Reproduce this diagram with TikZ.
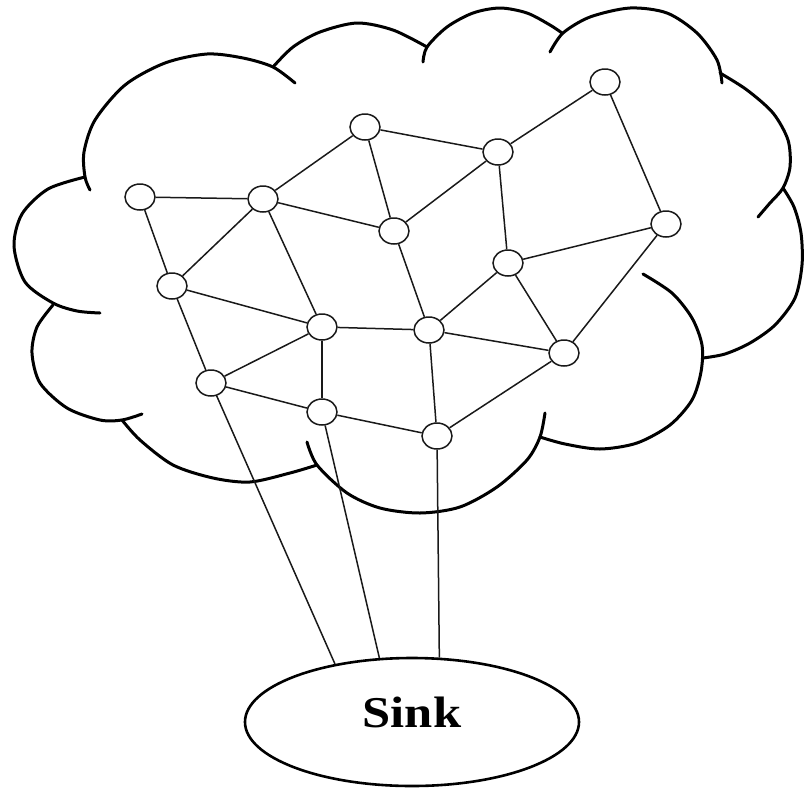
\documentclass[tikz,border=0pt]{standalone}
\usepackage{fontspec}
\setmainfont{Liberation Serif}
\usetikzlibrary{shapes.geometric}
\begin{document}
\begin{tikzpicture}[x=1pt,y=-1pt,
  sensor/.style={draw=black!90, ellipse, line width=1.5pt, minimum width=30pt, minimum height=26pt, inner sep=0pt, fill=white},
  link/.style={line width=1.5pt, draw=black!90},
  cloudline/.style={line width=3pt, line cap=round},
  sinkshape/.style={draw, ellipse, line width=2.6pt, minimum width=334pt, minimum height=128pt, inner sep=0pt},
]
\useasboundingbox (0,0) rectangle (804,788);
% cloud lobes
\draw[cloudline] plot[smooth] coordinates {(90,190) (85,177) (84,152) (95,120) (125,85) (165,63) (207,54) (243,58) (273,67) (295,83)};
\draw[cloudline] plot[smooth] coordinates {(273,67) (293,47) (320,32) (357,23) (393,30) (427,47)};
\draw[cloudline] plot[smooth] coordinates {(423,62) (427,47) (447,27) (473,13) (500,8) (527,13) (550,25) (562,33)};
\draw[cloudline] plot[smooth] coordinates {(550,52) (563,33) (590,17) (630,8) (667,13) (697,33) (717,60) (722,83)};
\draw[cloudline] plot[smooth] coordinates {(720,73) (747,90) (773,113) (788,140) (790,167) (783,188) (770,203) (758,217)};
\draw[cloudline] plot[smooth] coordinates {(783,188) (794,207) (801,233) (802,265) (795,298) (775,325) (750,343) (725,354) (703,358)};
\draw[cloudline] plot[smooth] coordinates {(643,274) (672,293) (692,318) (702,345) (701,372) (692,400) (670,425) (637,443) (600,449) (565,444) (540,437)};
\draw[cloudline] plot[smooth] coordinates {(545,413) (540,437) (527,460) (497,487) (460,507) (420,513) (380,508) (347,493) (317,465) (307,442)};
\draw[cloudline] plot[smooth] coordinates {(317,465) (290,473) (250,482) (213,478) (173,465) (140,440) (122,420)};
\draw[cloudline] plot[smooth] coordinates {(142,414) (122,420) (100,420) (67,408) (40,383) (32,353) (37,327) (53,305)};
\draw[cloudline] plot[smooth] coordinates {(100,313) (77,311) (53,303) (25,282) (14,246) (22,214) (48,189) (85,177)};
% sensor nodes
\node[sensor] (A) at (140,197) {};
\node[sensor] (B) at (263,199) {};
\node[sensor] (C) at (365,127) {};
\node[sensor] (D) at (498,152) {};
\node[sensor] (E) at (605,82) {};
\node[sensor] (F) at (394,231) {};
\node[sensor] (G) at (666,224) {};
\node[sensor] (H) at (508,263) {};
\node[sensor] (I) at (172,286) {};
\node[sensor] (J) at (322,327) {};
\node[sensor] (K) at (429,330) {};
\node[sensor] (L) at (564,353) {};
\node[sensor] (M) at (211,383) {};
\node[sensor] (N) at (322,412) {};
\node[sensor] (O) at (437,436) {};
% sink
\node[sinkshape] (sink) at (412,722) {};
\node[anchor=base] (sinklabel) at (412,727) {\scalebox{1.15}[1]{\fontsize{44}{50}\selectfont\bfseries Sink}};
% links
\foreach \a/\b in {A/B, A/I, B/C, B/F, B/I, B/J, C/D, C/F, D/E, D/F, D/H, E/G, G/H, G/L, H/K, H/L, F/K, I/J, I/M, J/K, J/M, J/N, K/L, K/O, M/N, N/O, L/O}
  \draw[link] (\a) -- (\b);
\draw[link] (M) -- (sink.143.5);
\draw[link] (N) -- (sink.117.6);
\draw[link] (O) -- (sink.67.4);
\end{tikzpicture}
\end{document}
